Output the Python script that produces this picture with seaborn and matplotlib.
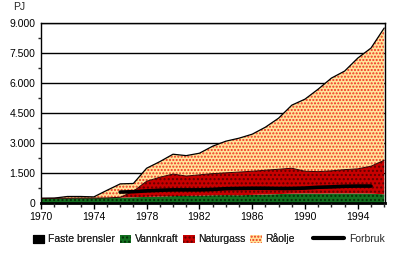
import numpy as np
import pandas as pd
import matplotlib
matplotlib.use("Agg")
import matplotlib.pyplot as plt
import seaborn as sns
from matplotlib.patches import Patch
from matplotlib.lines import Line2D
from matplotlib.ticker import FixedLocator, FixedFormatter, MultipleLocator

# ---- data (PJ) ----
years = list(range(1970, 1997))
faste_brensler = [20] * 27
vannkraft = [230, 230, 230, 240, 240, 250, 260, 280, 300, 320, 340, 350, 360, 380, 390,
             380, 400, 420, 440, 460, 470, 460, 470, 470, 470, 460, 430]
naturgass = [0, 0, 0, 0, 0, 0, 20, 300, 780, 960, 1100, 990, 1040, 1080, 1110,
             1160, 1180, 1210, 1240, 1270, 1110, 1100, 1130, 1190, 1230, 1370, 1700]
raolje = [0, 10, 90, 80, 60, 380, 670, 390, 650, 780, 990, 1020, 1080, 1370, 1580,
          1690, 1850, 2150, 2550, 3150, 3600, 4120, 4630, 4920, 5530, 5900, 6600]

forbruk_years = list(range(1976, 1996))
forbruk = [560, 580, 620, 650, 670, 670, 670, 690, 730, 740, 750, 750, 740, 740, 760,
           800, 820, 850, 860, 860]

series_names = ["Faste brensler", "Vannkraft", "Naturgass", "Råolje"]
x_ticks = [1970, 1974, 1978, 1982, 1986, 1990, 1994]
y_ticks = [0, 1500, 3000, 4500, 6000, 7500, 9000]
y_labels = ["0", "1.500", "3.000", "4.500", "6.000", "7.500", "9.000"]

# ---- style ----
sns.set_style("white")
plt.rcParams["font.family"] = ["Liberation Sans", "DejaVu Sans"]
plt.rcParams["hatch.linewidth"] = 1.0

colors = ["#000000", "#137020", "#c80000", "#ffe49a"]
hatches = [None, "....", "....", "....."]
hatch_cols = ["#000000", "#042e06", "#600000", "#f03020"]

fig = plt.figure(figsize=(4, 2.57), dpi=100)
ax = fig.add_axes([41 / 400, 1 - 203.3 / 257, 344 / 400, 180.3 / 257])

# gridlines behind the areas
for yt in y_ticks[1:]:
    ax.axhline(yt, color="black", lw=1.0, zorder=0)

polys = ax.stackplot(years, faste_brensler, vannkraft, naturgass, raolje,
                     colors=colors, edgecolor="black", linewidth=0.8, zorder=2)
for p, h, hc in zip(polys, hatches, hatch_cols):
    if h:
        p.set_hatch(h)
        p.set_edgecolor(hc)
        p.set_linewidth(0)
# outline of total
total = np.sum([faste_brensler, vannkraft, naturgass, raolje], axis=0)
sns.lineplot(x=years, y=total, color="black", lw=0.9, ax=ax, zorder=3)
cum_red = np.sum([faste_brensler, vannkraft, naturgass], axis=0)
sns.lineplot(x=years, y=cum_red, color="#300000", lw=0.7, ax=ax, zorder=3)

df_f = pd.DataFrame({"year": forbruk_years, "Forbruk": forbruk})
sns.lineplot(data=df_f, x="year", y="Forbruk", color="black", lw=2.6, ax=ax, zorder=4)

ax.set_xlim(1970, 1996.06)
ax.set_ylim(0, 9000)
ax.set_xlabel("")
ax.set_ylabel("")

ax.xaxis.set_major_locator(FixedLocator(x_ticks))
ax.xaxis.set_minor_locator(MultipleLocator(1))
ax.yaxis.set_major_locator(FixedLocator(y_ticks))
ax.yaxis.set_major_formatter(FixedFormatter(y_labels))
ax.yaxis.set_minor_locator(FixedLocator([750, 2250, 3750, 5250, 6750, 8250]))

ax.tick_params(axis="x", which="major", direction="out", length=4, width=1,
               labelsize=7.5, pad=2, colors="black", bottom=True)
ax.tick_params(axis="x", which="minor", direction="out", length=3, width=1, bottom=True)
ax.tick_params(axis="y", which="major", length=0, labelsize=7.5, pad=4, colors="black", left=True)
ax.tick_params(axis="y", which="minor", direction="out", length=2, width=1, left=True)

for s in ["left", "right", "top"]:
    ax.spines[s].set_visible(True)
    ax.spines[s].set_color("black")
    ax.spines[s].set_linewidth(1.0)
ax.spines["bottom"].set_color("black")
ax.spines["bottom"].set_linewidth(2.0)
ax.set_axisbelow(False)

fig.text(13 / 400, 1 - 7 / 257, "PJ", fontsize=7.5, ha="left", va="center")

handles = []
for c, h, hc in zip(colors, hatches, hatch_cols):
    if h:
        handles.append(Patch(facecolor=c, hatch=h, edgecolor=hc, linewidth=0))
    else:
        handles.append(Patch(facecolor=c, edgecolor="black", linewidth=0.8))
leg1 = fig.legend(handles, series_names, loc="center left",
                  bbox_to_anchor=(33 / 400, 1 - 239 / 257), ncol=4, frameon=False,
                  fontsize=7.5, handlelength=1.1, handleheight=0.9,
                  handletextpad=0.35, columnspacing=0.45, borderpad=0, borderaxespad=0)
leg2 = fig.legend([Line2D([0], [0], color="black", lw=3)], ["Forbruk"], loc="center left",
                  bbox_to_anchor=(313 / 400, 1 - 239 / 257), frameon=False,
                  fontsize=7.5, handlelength=3.0, handletextpad=0.5,
                  borderpad=0, borderaxespad=0)
fig.add_artist(leg1)

fig.savefig("out.png", dpi=100)
